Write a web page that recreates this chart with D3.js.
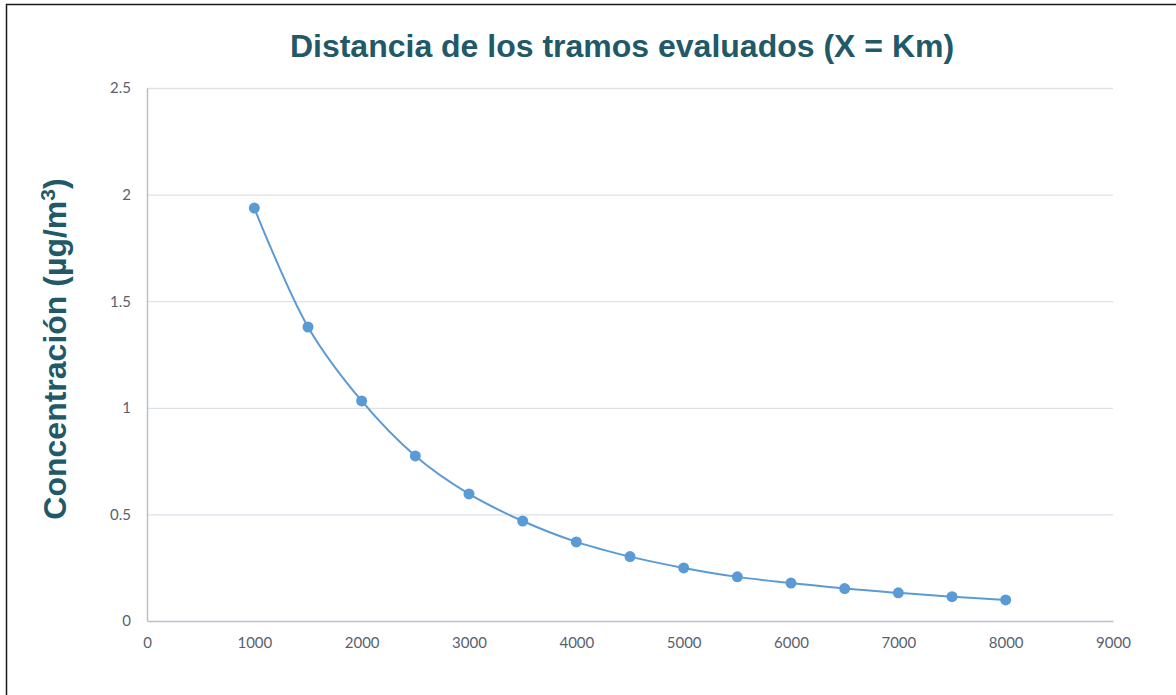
<!DOCTYPE html>
<html lang="en">
<head>
<meta charset="UTF-8">
<title>Distancia de los tramos evaluados</title>
<script src="https://d3js.org/d3.v7.min.js"></script>
<style>
    body { margin: 0; background: #fff; }
    .tick text { font-family: Lato, "Open Sans", sans-serif; font-size: 15px; fill: #595f6e; }
    .title { font-family: "Liberation Sans", Arial, sans-serif; font-weight: bold; fill: #215968; }
</style>
</head>
<body>
<div id="chart"></div>
<script>
    // distance (m) and concentration (ug/m3)
    const distances = [1000, 1500, 2000, 2500, 3000, 3500, 4000, 4500, 5000, 5500, 6000, 6500, 7000, 7500, 8000];
    const concentrations = [1.937, 1.379, 1.032, 0.774, 0.596, 0.469, 0.371, 0.302, 0.249, 0.207, 0.178, 0.152, 0.132, 0.114, 0.099];
    const xTicks = [0, 1000, 2000, 3000, 4000, 5000, 6000, 7000, 8000, 9000];
    const yTicks = [0, 0.5, 1, 1.5, 2, 2.5];

    const width = 1176, height = 695;
    const margin = { left: 147, right: 63, top: 88, bottom: 74 };

    const svg = d3.select("#chart").append("svg")
        .attr("width", width).attr("height", height);

    // outer border (only left and top visible in frame)
    svg.append("rect")
        .attr("x", 6.5).attr("y", 4.5)
        .attr("width", width + 10).attr("height", height + 10)
        .attr("fill", "none").attr("stroke", "#1a1a1a").attr("stroke-width", 1.5);

    const x = d3.scaleLinear().domain([0, 9000]).range([margin.left, width - margin.right]);
    const y = d3.scaleLinear().domain([0, 2.5]).range([height - margin.bottom, margin.top]);

    // gridlines
    svg.append("g").selectAll("line")
        .data(yTicks.filter(d => d > 0))
        .join("line")
        .attr("x1", x(0)).attr("x2", x(9000))
        .attr("y1", d => y(d) + 0.5).attr("y2", d => y(d) + 0.5)
        .attr("stroke", "#dde1e8").attr("stroke-width", 1.3);

    // y axis
    const yAxis = svg.append("g")
        .attr("transform", `translate(${x(0)},0)`)
        .call(d3.axisLeft(y).tickValues(yTicks).tickSize(0).tickPadding(16).tickFormat(d => d));
    yAxis.select(".domain").attr("stroke", "#b8bfcf").attr("stroke-width", 1.5);

    // x axis
    const xAxis = svg.append("g")
        .attr("transform", `translate(0,${y(0)})`)
        .call(d3.axisBottom(x).tickValues(xTicks).tickSize(0).tickPadding(16).tickFormat(d => d));
    xAxis.select(".domain").attr("stroke", "#b8bfcf").attr("stroke-width", 1.5);

    const pts = distances.map((d, i) => [d, concentrations[i]]);

    svg.append("path")
        .datum(pts)
        .attr("fill", "none")
        .attr("stroke", "#5b9bd5")
        .attr("stroke-width", 2)
        .attr("d", d3.line().x(d => x(d[0])).y(d => y(d[1])).curve(d3.curveCatmullRom.alpha(0.5)));

    svg.append("g").selectAll("circle")
        .data(pts)
        .join("circle")
        .attr("cx", d => x(d[0])).attr("cy", d => y(d[1]))
        .attr("r", 5.5)
        .attr("fill", "#5b9bd5");

    // title
    svg.append("text")
        .attr("class", "title")
        .attr("x", 622).attr("y", 57)
        .attr("text-anchor", "middle")
        .attr("font-size", 32)
        .text("Distancia de los tramos evaluados (X = Km)");

    // y label
    const yl = svg.append("text")
        .attr("class", "title")
        .attr("transform", `translate(66,349) rotate(-90)`)
        .attr("text-anchor", "middle")
        .attr("font-size", 32);
    yl.append("tspan").text("Concentración (µg/m");
    yl.append("tspan").attr("dy", -11).attr("font-size", 21).text("3");
    yl.append("tspan").attr("dy", 11).text(")");
</script>
</body>
</html>
